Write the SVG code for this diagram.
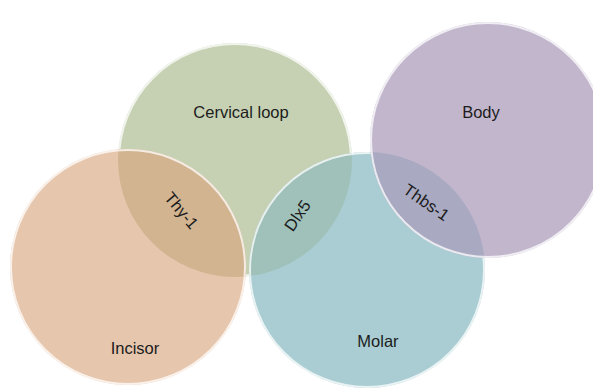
<svg xmlns="http://www.w3.org/2000/svg" width="593" height="389" viewBox="0 0 593 389">
<style>
.lbl{font-family:"Liberation Sans","Open Sans",sans-serif;font-size:16.5px;fill:#1c1c1c;text-anchor:middle}
.edge{fill:none;stroke:#ffffff;stroke-opacity:0.75;stroke-width:2}
</style>
<defs>
<clipPath id="cGreen"><circle cx="235" cy="160" r="117"/></clipPath>
<clipPath id="cBlue"><circle cx="367" cy="270" r="118"/></clipPath>
</defs>
<rect width="593" height="389" fill="#ffffff"/>
<g id="cervical-loop">
<circle cx="235" cy="160" r="117" fill="#c6d1b3"/>
<circle class="edge" cx="235" cy="160" r="116"/>
<text class="lbl" x="241" y="118">Cervical loop</text>
</g>
<g id="incisor">
<circle cx="128" cy="267" r="118" fill="#e6c6ad"/>
<circle cx="128" cy="267" r="118" fill="#d2b491" clip-path="url(#cGreen)"/>
<circle class="edge" cx="128" cy="267" r="117"/>
<text class="lbl" x="135" y="354">Incisor</text>
</g>
<g id="molar">
<circle cx="367" cy="270" r="118" fill="#a9cdd2"/>
<circle cx="367" cy="270" r="118" fill="#9fc1b9" clip-path="url(#cGreen)"/>
<circle class="edge" cx="367" cy="270" r="117"/>
<text class="lbl" x="378" y="347">Molar</text>
</g>
<g id="body">
<circle cx="488" cy="140" r="118" fill="#c2b6cd"/>
<circle cx="488" cy="140" r="118" fill="#a9a9c2" clip-path="url(#cBlue)"/>
<circle class="edge" cx="488" cy="140" r="117"/>
<text class="lbl" x="481" y="118">Body</text>
</g>
<g id="overlap-labels">
<text class="lbl" transform="translate(181,211) rotate(50)" y="5">Thy-1</text>
<text class="lbl" transform="translate(298,216) rotate(-55)" y="5">Dlx5</text>
<text class="lbl" transform="translate(426,203) rotate(35)" y="5">Thbs-1</text>
</g>
</svg>
